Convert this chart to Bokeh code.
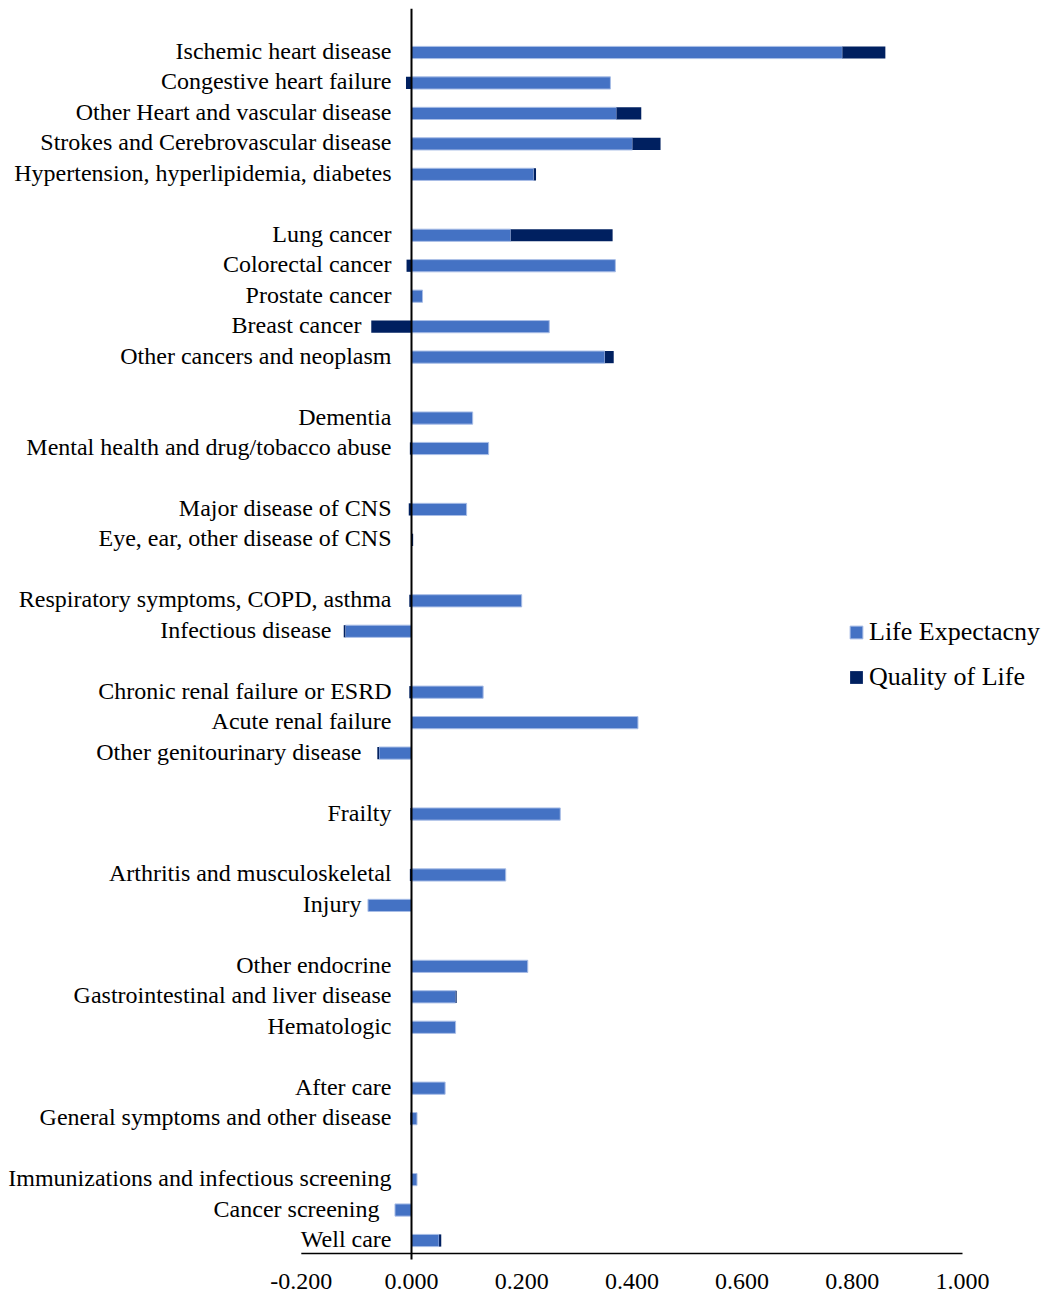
from bokeh.plotting import figure
from bokeh.models import Range1d, Legend, LegendItem, ColumnDataSource
from bokeh.core.properties import value
from bokeh.embed import file_html
from bokeh.resources import INLINE

# ---------------- data ----------------
categories = [
    "Ischemic heart disease", "Congestive heart failure", "Other Heart and vascular disease",
    "Strokes and Cerebrovascular disease", "Hypertension, hyperlipidemia, diabetes", "",
    "Lung cancer", "Colorectal cancer", "Prostate cancer", "Breast cancer", "Other cancers and neoplasm", "",
    "Dementia", "Mental health and drug/tobacco abuse", "",
    "Major disease of CNS", "Eye, ear, other disease of CNS", "",
    "Respiratory symptoms, COPD, asthma", "Infectious disease", "",
    "Chronic renal failure or ESRD", "Acute renal failure", "Other genitourinary disease", "",
    "Frailty", "",
    "Arthritis and musculoskeletal", "Injury", "",
    "Other endocrine", "Gastrointestinal and liver disease", "Hematologic", "",
    "After care", "General symptoms and other disease", "",
    "Immunizations and infectious screening", "Cancer screening", "Well care",
]
life_expectancy = [
    0.782, 0.361, 0.372, 0.401, 0.222, None,
    0.180, 0.370, 0.020, 0.250, 0.351, None,
    0.111, 0.140, None,
    0.100, 0.001, None,
    0.200, -0.120, None,
    0.130, 0.411, -0.059, None,
    0.270, None,
    0.171, -0.079, None,
    0.211, 0.080, 0.080, None,
    0.061, 0.010, None,
    0.010, -0.030, 0.050,
]
quality_of_life = [
    0.078, -0.010, 0.045, 0.051, 0.004, None,
    0.185, -0.009, 0.000, -0.073, 0.016, None,
    0.000, -0.003, None,
    -0.005, 0.002, None,
    -0.004, -0.003, None,
    -0.004, 0.000, -0.003, None,
    -0.002, None,
    -0.003, 0.000, None,
    0.000, 0.002, 0.000, None,
    0.000, -0.002, None,
    -0.001, 0.000, 0.004,
]
series_names = ["Life Expectacny", "Quality of Life"]
x_ticks = [-0.2, 0.0, 0.2, 0.4, 0.6, 0.8, 1.0]
x_tick_labels = ["-0.200", "0.000", "0.200", "0.400", "0.600", "0.800", "1.000"]

# ---------------- styles ----------------
LE_COLOR = "#4472C4"
QOL_COLOR = "#002060"
FONT = "Liberation Serif"
label_extra_shift = {"Breast cancer": 30, "Infectious disease": 60,
                     "Other genitourinary disease": 30, "Injury": 30, "Cancer screening": 12}

# ---------------- stacking (Excel-like: positives and negatives stack separately) ----------------
le = {"y": [], "left": [], "right": []}
ql = {"y": [], "left": [], "right": []}
lab = {"y": [], "text": [], "xo": []}
for i, cat in enumerate(categories):
    if cat == "":
        continue
    lab["y"].append(i)
    lab["text"].append(cat)
    lab["xo"].append(-20 - label_extra_shift.get(cat, 0))
    pos, neg = 0.0, 0.0
    for v, store in ((life_expectancy[i], le), (quality_of_life[i], ql)):
        if v is None or v == 0:
            continue
        if v > 0:
            store["left"].append(pos); store["right"].append(pos + v); pos += v
        else:
            store["left"].append(neg + v); store["right"].append(neg); neg += v
        store["y"].append(i)

# ---------------- layout geometry (pixels -> data units) ----------------
W, H, TOP = 1049, 1296, 8
zero_px, unit_px = 411, 551
first_row_px, last_row_px = 52, 1240
axis_px, tick_label_px = 1253, 1281
row_px = (last_row_px - first_row_px) / (len(categories) - 1)


def px_to_y(py):
    return (py - first_row_px) / row_px


x_range = Range1d(-zero_px / unit_px, (W - zero_px) / unit_px)
y_range = Range1d(px_to_y(H), px_to_y(TOP))

p = figure(frame_width=W, frame_height=H - TOP, x_range=x_range, y_range=y_range,
           output_backend="svg", toolbar_location=None,
           x_axis_location=None, y_axis_location=None,
           min_border_top=TOP, min_border_bottom=0, min_border_left=0, min_border_right=0,
           background_fill_color="white", border_fill_color="white")
p.outline_line_color = None
p.grid.visible = False

r_le = p.hbar(y="y", left="left", right="right", height=0.4, source=ColumnDataSource(le),
              fill_color=LE_COLOR, line_color="#a8bde6", line_width=1)
r_ql = p.hbar(y="y", left="left", right="right", height=0.4, source=ColumnDataSource(ql),
              fill_color=QOL_COLOR, line_color=None)

# vertical category axis line at zero (slightly below the value axis, as in the reference)
p.segment(x0=0, x1=0, y0=px_to_y(TOP), y1=px_to_y(axis_px + 6), line_color="black", line_width=2)
# horizontal value axis line
p.segment(x0=x_ticks[0], x1=x_ticks[-1], y0=px_to_y(axis_px), y1=px_to_y(axis_px),
          line_color="black", line_width=1.5)
# value axis tick labels
p.text(x=x_ticks, y=[px_to_y(tick_label_px)] * len(x_ticks), text=x_tick_labels,
       text_align="center", text_baseline="middle", text_font=value(FONT),
       text_font_size="24px", text_color="black")

# category labels
p.text(x=0, y="y", text="text", x_offset="xo", y_offset=-1.5, source=ColumnDataSource(lab),
       text_align="right", text_baseline="middle", text_font=value(FONT),
       text_font_size="24px", text_color="black")

legend = Legend(items=[LegendItem(label=series_names[0], renderers=[r_le]),
                       LegendItem(label=series_names[1], renderers=[r_ql])],
                location=(848, H - TOP - 692 + TOP), orientation="vertical",
                glyph_width=16, glyph_height=16, label_standoff=5, label_height=31,
                spacing=14, padding=0, margin=0,
                label_text_font=FONT, label_text_font_size="26px", label_text_color="black",
                border_line_color=None, background_fill_alpha=0)
p.add_layout(legend)

open("out.html", "w").write(file_html(p, INLINE))
